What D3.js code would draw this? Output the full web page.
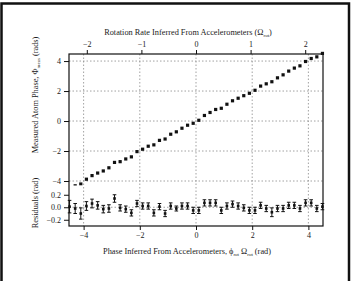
<!DOCTYPE html>
<html><head><meta charset="utf-8">
<script src="https://cdn.jsdelivr.net/npm/d3@7"></script>
<style>
html,body{margin:0;padding:0;background:#fff;}
svg{display:block;}
text{font-family:"Liberation Serif","DejaVu Serif",serif;fill:#1a1a1a;}
</style></head>
<body><svg id="c" width="354" height="281"></svg>
<script>
// ---- data ----
const phiAcc = [-4.5,-4.3,-4.1,-3.9,-3.7,-3.5,-3.3,-3.1,-2.9,-2.7,-2.5,-2.3,-2.1,-1.9,-1.7,-1.5,-1.3,-1.1,-0.9,-0.7,-0.5,-0.3,-0.1,0.1,0.3,0.5,0.7,0.9,1.1,1.3,1.5,1.7,1.9,2.1,2.3,2.5,2.7,2.9,3.1,3.3,3.5,3.7,3.9,4.1,4.3,4.5];
const phiMeas = [-4.49,-4.32,-4.20,-3.88,-3.64,-3.47,-3.33,-3.12,-2.76,-2.71,-2.53,-2.39,-2.04,-1.88,-1.68,-1.59,-1.29,-1.20,-0.88,-0.72,-0.48,-0.28,-0.15,0.05,0.37,0.57,0.77,0.85,1.12,1.35,1.52,1.69,1.85,2.05,2.33,2.48,2.62,2.88,3.08,3.33,3.53,3.68,3.97,4.17,4.28,4.51];
const residuals = [0.01,-0.02,-0.10,0.02,0.06,0.03,-0.03,-0.02,0.14,-0.01,-0.03,-0.09,0.06,0.02,0.02,-0.09,0.01,-0.10,0.02,-0.02,0.02,0.02,-0.05,-0.05,0.07,0.07,0.07,-0.05,0.02,0.05,0.02,-0.01,-0.05,-0.05,0.03,-0.02,-0.08,-0.02,-0.02,0.03,0.03,-0.02,0.07,0.07,-0.02,0.01];
const resErr = [0.10,0.08,0.09,0.07,0.07,0.06,0.06,0.06,0.06,0.05,0.05,0.05,0.05,0.05,0.05,0.05,0.05,0.05,0.05,0.04,0.05,0.05,0.05,0.05,0.05,0.05,0.05,0.05,0.05,0.05,0.05,0.05,0.05,0.05,0.05,0.05,0.07,0.05,0.05,0.05,0.05,0.05,0.05,0.05,0.05,0.05];
const bottomTicks = [-4,-2,0,2,4];
const topTicks = [-2,-1,0,1,2];
const mainTicks = [4,2,0,-2,-4];
const resTicks = [0.2,0.0,-0.2];

const svg = d3.select("#c");
const L=69, R=323, T=54, MID=188.5, B=226;

const x = d3.scaleLinear().domain([-4.52,4.52]).range([L,R]);
const xTop = d3.scaleLinear().domain([-2.326,2.326]).range([L,R]);
const yMain = d3.scaleLinear().domain([-4.5,4.47]).range([MID,T]);
const yRes = d3.scaleLinear().domain([-0.3,0.3]).range([B,MID]);

// outer frame
svg.append("rect").attr("x",1.5).attr("y",3.5).attr("width",347.5).attr("height",300)
  .attr("fill","none").attr("stroke","#111").attr("stroke-width",2.5);

// grid
const grid = svg.append("g").attr("stroke","#8a8a8a").attr("stroke-width",0.8).attr("stroke-dasharray","1.5,2");
grid.selectAll(".gh").data(mainTicks).join("line")
  .attr("x1",L).attr("x2",R).attr("y1",d=>yMain(d)).attr("y2",d=>yMain(d));
grid.append("line").attr("x1",L).attr("x2",R).attr("y1",yRes(0)).attr("y2",yRes(0));
grid.selectAll(".gv").data(bottomTicks).join("line")
  .attr("x1",d=>x(d)).attr("x2",d=>x(d)).attr("y1",T).attr("y2",B);

// axes
const fs = 8;
const axB = svg.append("g").attr("transform",`translate(0,${B})`)
  .call(d3.axisBottom(x).tickValues(bottomTicks).tickSize(4).tickPadding(2).tickFormat(d3.format("d")));
const axT = svg.append("g").attr("transform",`translate(0,${T})`)
  .call(d3.axisTop(xTop).tickValues(topTicks).tickSize(4).tickPadding(3).tickFormat(d3.format("d")));
const axL = svg.append("g").attr("transform",`translate(${L},0)`)
  .call(d3.axisLeft(yMain).tickValues(mainTicks).tickSize(5).tickPadding(3).tickFormat(d3.format("d")));
const axL2 = svg.append("g").attr("transform",`translate(${L},0)`)
  .call(d3.axisLeft(yRes).tickValues(resTicks).tickSize(5).tickPadding(3).tickFormat(d3.format(".1f")));
[axB,axT,axL,axL2].forEach(a=>{
  a.selectAll("path").remove();
  a.selectAll("line").attr("stroke","#111").attr("stroke-width",1);
  a.selectAll("text").attr("font-size",fs).attr("font-family","Liberation Serif").attr("fill","#1a1a1a");
});
// frame of plot
svg.append("rect").attr("x",L).attr("y",T).attr("width",R-L).attr("height",B-T)
  .attr("fill","none").attr("stroke","#111").attr("stroke-width",1.2);

// main points
svg.append("defs").append("clipPath").attr("id","cm").append("rect")
  .attr("x",L-4).attr("y",T-4).attr("width",R-L+8).attr("height",MID-T+1);
svg.append("g").attr("clip-path","url(#cm)").selectAll("rect").data(phiAcc).join("rect")
  .attr("x",(d)=>x(d)-1.6).attr("y",(d,i)=>yMain(phiMeas[i])-1.6)
  .attr("width",3.2).attr("height",3.2).attr("fill","#111");

// residual error bars
const eb = svg.append("g").attr("stroke","#111").attr("stroke-width",1);
phiAcc.forEach((d,i)=>{
  const cx = x(d), y0 = yRes(residuals[i]-resErr[i]), y1 = yRes(residuals[i]+resErr[i]);
  eb.append("line").attr("x1",cx).attr("x2",cx).attr("y1",y0).attr("y2",y1);
  eb.append("line").attr("x1",cx-1.8).attr("x2",cx+1.8).attr("y1",y0).attr("y2",y0);
  eb.append("line").attr("x1",cx-1.8).attr("x2",cx+1.8).attr("y1",y1).attr("y2",y1);
});
svg.append("g").selectAll("rect").data(phiAcc).join("rect")
  .attr("x",d=>x(d)-1.3).attr("y",(d,i)=>yRes(residuals[i])-1.3)
  .attr("width",2.6).attr("height",2.6).attr("fill","#111");

// titles
const tfs = 8.3;
const t1 = svg.append("text").attr("x",188).attr("y",35).attr("text-anchor","middle").attr("font-size",tfs)
  .text("Rotation Rate Inferred From Accelerometers (Ω");
t1.append("tspan").attr("font-size",5).attr("dy",2).text("rot");
t1.append("tspan").attr("dy",-2).text(")");

const t2 = svg.append("text").attr("x",187).attr("y",254).attr("text-anchor","middle").attr("font-size",tfs)
  .text("Phase Inferred From Accelerometers,  ϕ");
t2.append("tspan").attr("font-size",5).attr("dy",2).text("rot");
t2.append("tspan").attr("dy",-2).text(" Ω");
t2.append("tspan").attr("font-size",5).attr("dy",2).text("rot");
t2.append("tspan").attr("dy",-2).text(" (rad)");

const t3 = svg.append("text").attr("transform","translate(38,95) rotate(-90)").attr("text-anchor","middle").attr("font-size",tfs)
  .text("Measured Atom Phase, Φ");
t3.append("tspan").attr("font-size",5).attr("dy",2).text("meas");
t3.append("tspan").attr("dy",-2).text(" (rads)");

svg.append("text").attr("transform","translate(38,203) rotate(-90)").attr("text-anchor","middle").attr("font-size",tfs)
  .text("Residuals (rad)");
</script></body></html>
